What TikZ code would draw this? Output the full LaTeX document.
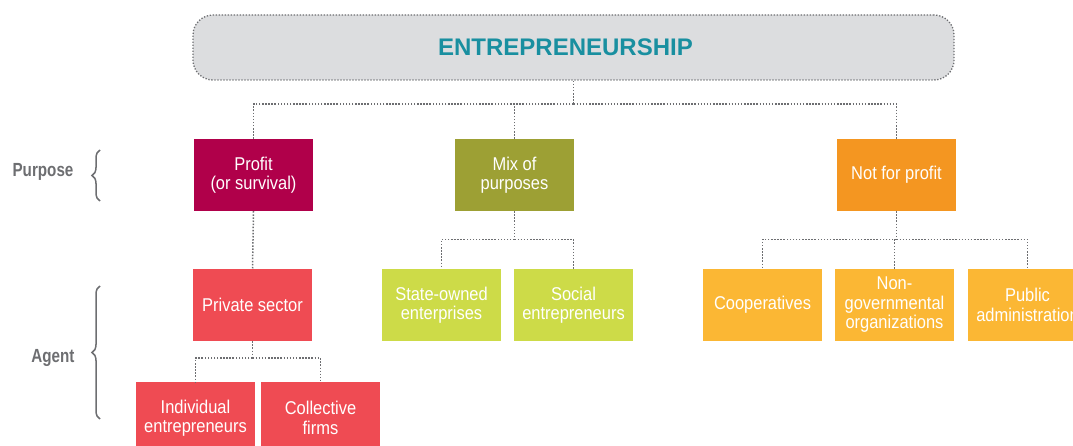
\documentclass[tikz,border=0pt]{standalone}
\usepackage{fontspec}
\setmainfont{Liberation Sans}
\newfontfamily\narrowfont{Liberation Sans}[FakeStretch=0.89]
\newfontfamily\sidefont{Liberation Sans}[FakeStretch=0.8]
\usepackage{xcolor}
\usetikzlibrary{positioning,calc,decorations.pathreplacing}

\definecolor{linegray}{RGB}{109,110,113}
\definecolor{headgray}{RGB}{220,221,223}
\definecolor{headteal}{RGB}{25,143,160}
\definecolor{profitred}{RGB}{176,0,74}
\definecolor{mixolive}{RGB}{157,160,52}
\definecolor{npforange}{RGB}{244,150,33}
\definecolor{privred}{RGB}{239,75,83}
\definecolor{mixlime}{RGB}{205,219,72}
\definecolor{npflight}{RGB}{251,183,52}

\begin{document}
\begin{tikzpicture}[x=1pt, y=-1pt,
    box/.style={minimum width=119pt, minimum height=72pt, inner sep=0pt, align=center,
      text=white, font=\narrowfont\fontsize{18.5}{19.5}\selectfont},
    link/.style={draw=linegray, line width=1.5pt, dash pattern=on 1.5pt off 1.6pt},
    side/.style={text=linegray, font=\sidefont\bfseries\fontsize{19}{22}\selectfont},
    bracket/.style={draw=linegray, line width=1.5pt, decorate, decoration={brace, amplitude=8pt}}]
        \useasboundingbox (0,0) rectangle (1073,446);

        % Top box
        \node[draw=linegray, fill=headgray, line width=1.3pt, dash pattern=on 1.3pt off 1.7pt,
          rounded corners=20pt, minimum width=761pt, minimum height=65pt, inner sep=0pt,
          text=headteal, font=\bfseries\fontsize{24}{28}\selectfont] (entre) at (573.5,47.5) {\hspace*{-16pt}ENTREPRENEURSHIP};

        % Purpose row
        \node[box, fill=profitred] (profit) at (253.5,175) {Profit\\(or survival)};
        \node[box, fill=mixolive] (mix) at (514.5,175) {Mix of\\purposes};
        \node[box, fill=npforange] (npf) at (896.5,175) {Not for profit};

        % Agent row
        \node[box, fill=privred] (private) at (252.5,305) {Private sector};
        \node[box, fill=privred] (indiv) at (195.5,418) {Individual\\entrepreneurs};
        \node[box, fill=privred] (collect) at (320.5,418) {Collective\\firms};
        \node[box, fill=mixlime] (state) at (441.5,305) {State-owned\\enterprises};
        \node[box, fill=mixlime] (social) at (573.5,305) {Social\\entrepreneurs};
        \node[box, fill=npflight] (coop) at (762.5,305) {Cooperatives};
        \node[box, fill=npflight] (ngo) at (894.5,305) {Non-\\governmental\\organizations};
        \node[box, fill=npflight] (public) at (1027.5,305) {Public\\administration};

        % Links from the top
        \coordinate (topbus) at (573.5,104);
        \draw[link] (entre.south) -- (topbus);
        \draw[link] (topbus) -| (profit.north);
        \draw[link] (topbus) -| (npf.north);
        \draw[link] (mix.north) -- (mix.north |- topbus);

        % Links below the purposes
        \draw[link] (profit.south) -- (private.north);
        \coordinate (privbus) at (252.5,358);
        \draw[link] (private.south) -- (privbus);
        \draw[link] (privbus) -| (indiv.north);
        \draw[link] (privbus) -| (collect.north);
        \coordinate (mixbus) at (514.5,239.5);
        \draw[link] (mix.south) -- (mixbus);
        \draw[link] (mixbus) -| (state.north);
        \draw[link] (mixbus) -| (social.north);
        \coordinate (npfbus) at (896.5,239.5);
        \draw[link] (npf.south) -- (npfbus);
        \draw[link] (npfbus) -| (coop.north);
        \draw[link] (npfbus) -| (public.north);
        \draw[link] (ngo.north) -- (ngo.north |- npfbus);

        % Side labels
        \node[side] (purpose) at (43,172) {Purpose};
        \node[side] (agent) at (53,358) {Agent};
        \coordinate (pb1) at (100,201);
        \coordinate (pb2) at (100,150);
        \draw[bracket] (pb1) -- (pb2);
        \coordinate (ab1) at (100,419);
        \coordinate (ab2) at (100,286);
        \draw[bracket] (ab1) -- (ab2);
      \end{tikzpicture}
\end{document}
